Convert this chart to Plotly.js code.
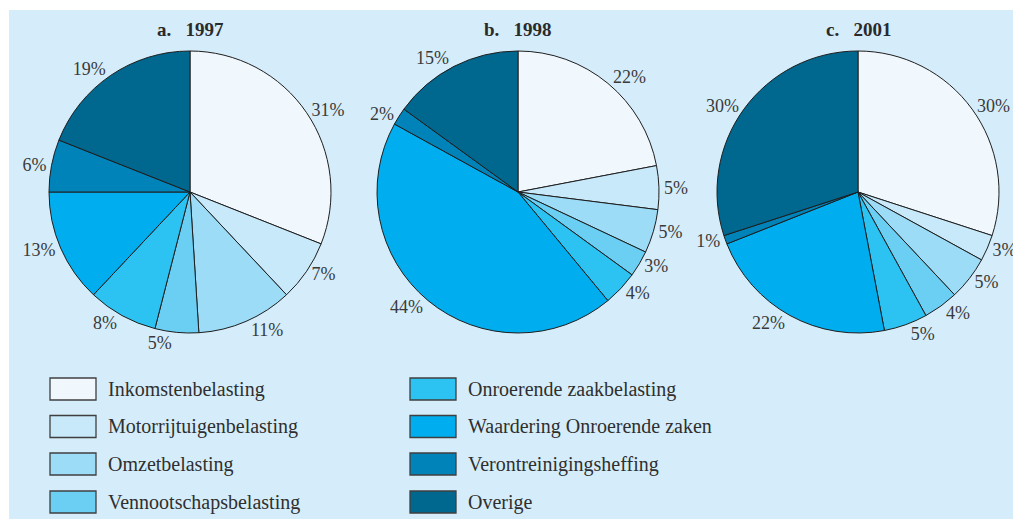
<!DOCTYPE html>
<html>
<head>
<meta charset="utf-8">
<script src="https://cdn.plot.ly/plotly-3.0.1.min.js"></script>
<style>html,body{margin:0;padding:0;background:#fff;}#chart{width:1013px;height:519px;}</style>
</head>
<body>
<div id="chart"></div>
<script>
var categories = ["Inkomstenbelasting", "Motorrijtuigenbelasting", "Omzetbelasting", "Vennootschapsbelasting",
  "Onroerende zaakbelasting", "Waardering Onroerende zaken", "Verontreinigingsheffing", "Overige"];
var colors = ["#f0f8fe", "#c8e9f9", "#9cdcf6", "#6bcff4", "#2cc3f2", "#00aeef", "#0083b9", "#00678f"];
var values1997 = [31, 7, 11, 5, 8, 13, 6, 19];
var values1998 = [22, 5, 5, 3, 4, 44, 2, 15];
var values2001 = [30, 3, 5, 4, 5, 22, 1, 30];
var titles = ["a.\u00a0\u00a0 1997", "b.\u00a0\u00a0 1998", "c.\u00a0\u00a0 2001"];

var W = 1013, H = 519;
function fx(p) { return p / W; }
function fy(p) { return 1 - p / H; }

var serif = "Liberation Serif, Times New Roman, serif";
var centers = [190, 518, 858];
var cy = 192, R = 141;
var series = [values1997, values1998, values2001];

var data = series.map(function (vals, i) {
  return {
    type: "pie",
    labels: categories,
    values: vals,
    sort: false,
    direction: "clockwise",
    rotation: 0,
    marker: { colors: colors, line: { color: "#1e1e1e", width: 1 } },
    texttemplate: "%{value}%",
    textposition: "outside",
    outsidetextfont: { family: serif, size: 18, color: "#3a3a3a" },
    hoverinfo: "label+percent",
    showlegend: false,
    domain: { x: [fx(centers[i] - R), fx(centers[i] + R)], y: [fy(cy + R), fy(cy - R)] }
  };
});

var shapes = [{
  type: "rect", xref: "paper", yref: "paper", layer: "below",
  x0: fx(9), x1: 1, y0: 0, y1: fy(10),
  fillcolor: "#d5edfa", line: { width: 0 }
}];
var annotations = titles.map(function (t, i) {
  return {
    xref: "paper", yref: "paper", x: fx(centers[i]), y: fy(30),
    xanchor: "center", yanchor: "middle", showarrow: false,
    text: "<b>" + t + "</b>", font: { family: serif, size: 19, color: "#2a2a2a" }
  };
});

var rowY = [389, 426.5, 464, 502];
var colBox = [50, 410];
categories.forEach(function (c, k) {
  var col = Math.floor(k / 4), row = k % 4;
  var bx = colBox[col], by = rowY[row];
  shapes.push({
    type: "rect", xref: "paper", yref: "paper",
    x0: fx(bx), x1: fx(bx + 46), y0: fy(by + 11), y1: fy(by - 11),
    fillcolor: colors[k], line: { color: "#3f3f3f", width: 1.3 }
  });
  annotations.push({
    xref: "paper", yref: "paper", x: fx(bx + 56), y: fy(by),
    xanchor: "left", yanchor: "middle", showarrow: false,
    text: c, font: { family: serif, size: 20, color: "#2f2f2f" }
  });
});

var layout = {
  width: W, height: H,
  margin: { l: 0, r: 0, t: 0, b: 0 },
  paper_bgcolor: "#ffffff",
  showlegend: false,
  shapes: shapes,
  annotations: annotations
};

Plotly.newPlot("chart", data, layout, { displayModeBar: false, staticPlot: true }).then(function () {
  document.querySelectorAll("path.textline").forEach(function (p) { p.remove(); });
});
</script>
</body>
</html>
